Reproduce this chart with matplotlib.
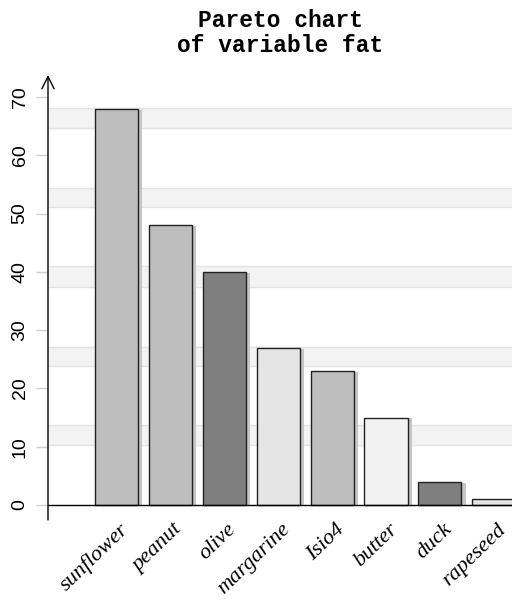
import matplotlib
matplotlib.use('Agg')
import matplotlib.pyplot as plt
import numpy as np

# Datos del grafico
categories = ['sunflower', 'peanut', 'olive', 'margarine', 'Isio4', 'butter', 'duck', 'rapeseed']
fat = [68, 48, 40, 27, 23, 15, 4, 1]
bar_colors = ['#bebebe', '#bebebe', '#7f7f7f', '#e5e5e5', '#bebebe', '#f2f2f2', '#7f7f7f', '#e5e5e5']
y_ticks = [0, 10, 20, 30, 40, 50, 60, 70]
# franjas grises del fondo (inicio, fin)
bands = [(64.7, 68.1), (51.1, 54.4), (37.4, 41.0), (23.8, 27.1), (10.3, 13.7)]

W, H = 512, 604
fig = plt.figure(figsize=(W / 100, H / 100), dpi=100)

# ejes en pixeles: izquierda 48, derecha 512, abajo 520, arriba 75
ax = fig.add_axes([48 / W, (H - 520) / H, (512 - 48) / W, (520 - 75) / H])
px_per_unit = (505 - 97) / 70.0
ax.set_ylim(-15 / px_per_unit, (505 - 75) / px_per_unit)
step = 53.9
ax.set_xlim(-(116.5 - 48) / step, (512 - 116.5) / step)

x = np.arange(len(categories))

for lo, hi in bands:
    ax.axhspan(lo, hi, color='#f3f3f3', zorder=0, lw=0)
    ax.axhline(lo, color='#e2e2e2', lw=1, zorder=0.5)
    ax.axhline(hi, color='#e2e2e2', lw=1, zorder=0.5)

# sombra de las barras
ax.bar(x + 0.08, np.array(fat) - 0.15, width=0.8, color='#c6c6c6', zorder=1, lw=0)
ax.bar(x, fat, width=0.8, color=bar_colors, edgecolor='#222222', lw=1, zorder=2)

ax.axhline(0, color='black', lw=1, zorder=3)

for s in ['top', 'right', 'bottom', 'left']:
    ax.spines[s].set_visible(False)
# eje y con flecha
ax.annotate('', xy=(0, 1), xycoords='axes fraction', xytext=(0, 0), textcoords='axes fraction',
            arrowprops=dict(arrowstyle='->', lw=1, color='black', mutation_scale=22,
                            shrinkA=0, shrinkB=0))

ax.set_yticks(y_ticks)
ax.set_yticklabels([str(v) for v in y_ticks], rotation=90, va='center',
                   fontsize=14, family='Liberation Sans')
ax.tick_params(axis='y', length=9, width=1, color='#d0d0d0', pad=5)
ax.set_xticks([])

for i, name in enumerate(categories):
    ax.text(i + 0.05, -2.6, name, rotation=44, rotation_mode='anchor',
            ha='right', va='top', fontsize=16, family='Liberation Serif', style='italic')

fig.text(280 / W, 1 - 33 / H, 'Pareto chart\nof variable fat', ha='center', va='center',
         family='Liberation Mono', weight='bold', fontsize=16.5, linespacing=1.1)

plt.savefig('out.png', dpi=100)
